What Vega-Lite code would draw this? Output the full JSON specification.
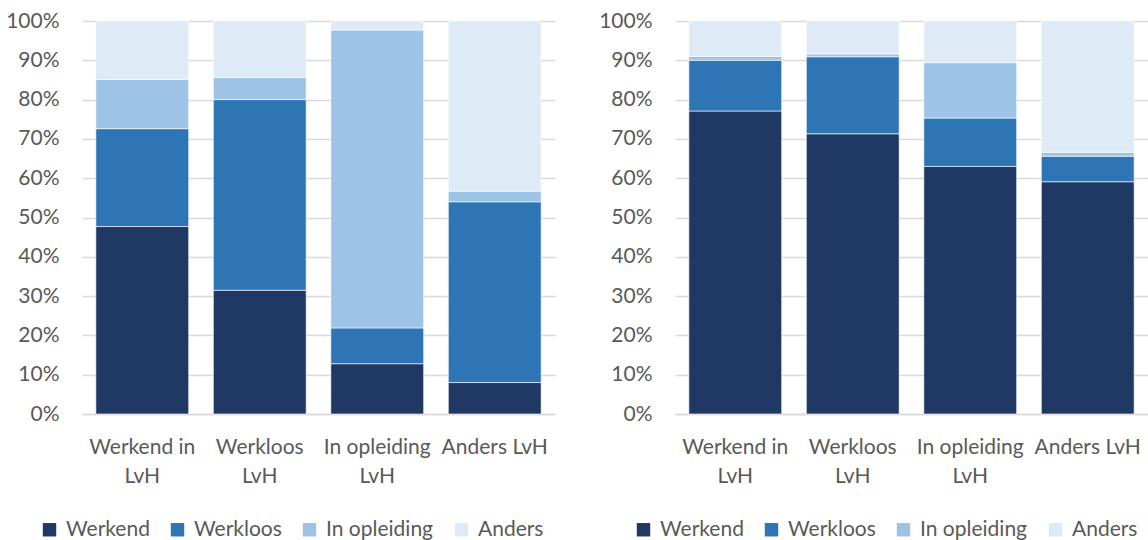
{
  "$schema": "https://vega.github.io/schema/vega-lite/v6.json",
  "background": "white",
  "padding": {"left": 5, "top": 10, "right": 0, "bottom": 0},
  "spacing": 43,
  "datasets": {
    "left": [
      {"cat": "Werkend in LvH", "status": "Werkend", "value": 47.7},
      {"cat": "Werkend in LvH", "status": "Werkloos", "value": 24.9},
      {"cat": "Werkend in LvH", "status": "In opleiding", "value": 12.5},
      {"cat": "Werkend in LvH", "status": "Anders", "value": 14.9},
      {"cat": "Werkloos LvH", "status": "Werkend", "value": 31.5},
      {"cat": "Werkloos LvH", "status": "Werkloos", "value": 48.5},
      {"cat": "Werkloos LvH", "status": "In opleiding", "value": 5.6},
      {"cat": "Werkloos LvH", "status": "Anders", "value": 14.4},
      {"cat": "In opleiding LvH", "status": "Werkend", "value": 12.8},
      {"cat": "In opleiding LvH", "status": "Werkloos", "value": 9.1},
      {"cat": "In opleiding LvH", "status": "In opleiding", "value": 75.8},
      {"cat": "In opleiding LvH", "status": "Anders", "value": 2.3},
      {"cat": "Anders LvH", "status": "Werkend", "value": 8.0},
      {"cat": "Anders LvH", "status": "Werkloos", "value": 46.0},
      {"cat": "Anders LvH", "status": "In opleiding", "value": 2.7},
      {"cat": "Anders LvH", "status": "Anders", "value": 43.3}
    ],
    "right": [
      {"cat": "Werkend in LvH", "status": "Werkend", "value": 77.1},
      {"cat": "Werkend in LvH", "status": "Werkloos", "value": 12.9},
      {"cat": "Werkend in LvH", "status": "In opleiding", "value": 1.0},
      {"cat": "Werkend in LvH", "status": "Anders", "value": 9.0},
      {"cat": "Werkloos LvH", "status": "Werkend", "value": 71.3},
      {"cat": "Werkloos LvH", "status": "Werkloos", "value": 19.6},
      {"cat": "Werkloos LvH", "status": "In opleiding", "value": 0.7},
      {"cat": "Werkloos LvH", "status": "Anders", "value": 8.4},
      {"cat": "In opleiding LvH", "status": "Werkend", "value": 63.0},
      {"cat": "In opleiding LvH", "status": "Werkloos", "value": 12.3},
      {"cat": "In opleiding LvH", "status": "In opleiding", "value": 14.1},
      {"cat": "In opleiding LvH", "status": "Anders", "value": 10.6},
      {"cat": "Anders LvH", "status": "Werkend", "value": 59.1},
      {"cat": "Anders LvH", "status": "Werkloos", "value": 6.5},
      {"cat": "Anders LvH", "status": "In opleiding", "value": 1.0},
      {"cat": "Anders LvH", "status": "Anders", "value": 33.4}
    ]
  },
  "config": {
    "font": "Lato",
    "view": {"stroke": null},
    "axis": {"labelFont": "Lato", "labelColor": "#595959", "labelFontSize": 21},
    "legend": {"labelFont": "Lato", "labelColor": "#595959", "labelFontSize": 21}
  },
  "resolve": {"scale": {"color": "independent"}, "legend": {"color": "independent"}},
  "hconcat": [
    {
      "data": {"name": "left"},
      "transform": [{"calculate": "indexof(['Werkend', 'Werkloos', 'In opleiding', 'Anders'], datum.status)", "as": "stackOrder"}],
      "width": 473,
      "height": 393,
      "mark": {"type": "bar", "stroke": "white", "strokeWidth": 0.6},
      "encoding": {
        "x": {
          "field": "cat", "type": "nominal",
          "sort": ["Werkend in LvH", "Werkloos LvH", "In opleiding LvH", "Anders LvH"],
          "scale": {"paddingInner": 0.21, "paddingOuter": 0.118},
          "axis": {
            "title": null, "labelAngle": 0, "ticks": false, "domainColor": "#D9D9D9", "domainWidth": 1.3,
            "labelPadding": 22.5, "labelLineHeight": 29,
            "labelExpr": "datum.value == 'Anders LvH' ? datum.value : split(replace(datum.value, ' LvH', '|LvH'), '|')"
          }
        },
        "y": {
          "field": "value", "type": "quantitative", "stack": "zero",
          "scale": {"domain": [0, 100]},
          "axis": {
            "title": null, "values": [0, 10, 20, 30, 40, 50, 60, 70, 80, 90, 100],
            "labelExpr": "datum.value + '%'", "domain": false, "ticks": false,
            "gridColor": "#D9D9D9", "gridWidth": 1.3, "labelPadding": 23
          }
        },
        "order": {"field": "stackOrder", "type": "quantitative"},
        "color": {
          "field": "status", "type": "nominal",
          "sort": ["Werkend", "Werkloos", "In opleiding", "Anders"],
          "scale": {"domain": ["Werkend", "Werkloos", "In opleiding", "Anders"], "range": ["#203864", "#2E75B6", "#9DC3E6", "#DEEBF7"]},
          "legend": {"title": null, "orient": "none", "legendX": -43, "legendY": 498, "direction": "horizontal", "symbolType": "square", "symbolSize": 180, "symbolStrokeWidth": 0, "columnPadding": 17, "labelOffset": 6}
        }
      }
    },
    {
      "data": {"name": "right"},
      "transform": [{"calculate": "indexof(['Werkend', 'Werkloos', 'In opleiding', 'Anders'], datum.status)", "as": "stackOrder"}],
      "width": 473,
      "height": 393,
      "mark": {"type": "bar", "stroke": "white", "strokeWidth": 0.6},
      "encoding": {
        "x": {
          "field": "cat", "type": "nominal",
          "sort": ["Werkend in LvH", "Werkloos LvH", "In opleiding LvH", "Anders LvH"],
          "scale": {"paddingInner": 0.21, "paddingOuter": 0.118},
          "axis": {
            "title": null, "labelAngle": 0, "ticks": false, "domainColor": "#D9D9D9", "domainWidth": 1.3,
            "labelPadding": 22.5, "labelLineHeight": 29,
            "labelExpr": "datum.value == 'Anders LvH' ? datum.value : split(replace(datum.value, ' LvH', '|LvH'), '|')"
          }
        },
        "y": {
          "field": "value", "type": "quantitative", "stack": "zero",
          "scale": {"domain": [0, 100]},
          "axis": {
            "title": null, "values": [0, 10, 20, 30, 40, 50, 60, 70, 80, 90, 100],
            "labelExpr": "datum.value + '%'", "domain": false, "ticks": false,
            "gridColor": "#D9D9D9", "gridWidth": 1.3, "labelPadding": 23
          }
        },
        "order": {"field": "stackOrder", "type": "quantitative"},
        "color": {
          "field": "status", "type": "nominal",
          "sort": ["Werkend", "Werkloos", "In opleiding", "Anders"],
          "scale": {"domain": ["Werkend", "Werkloos", "In opleiding", "Anders"], "range": ["#203864", "#2E75B6", "#9DC3E6", "#DEEBF7"]},
          "legend": {"title": null, "orient": "none", "legendX": -42, "legendY": 498, "direction": "horizontal", "symbolType": "square", "symbolSize": 180, "symbolStrokeWidth": 0, "columnPadding": 17, "labelOffset": 6}
        }
      }
    }
  ]
}
